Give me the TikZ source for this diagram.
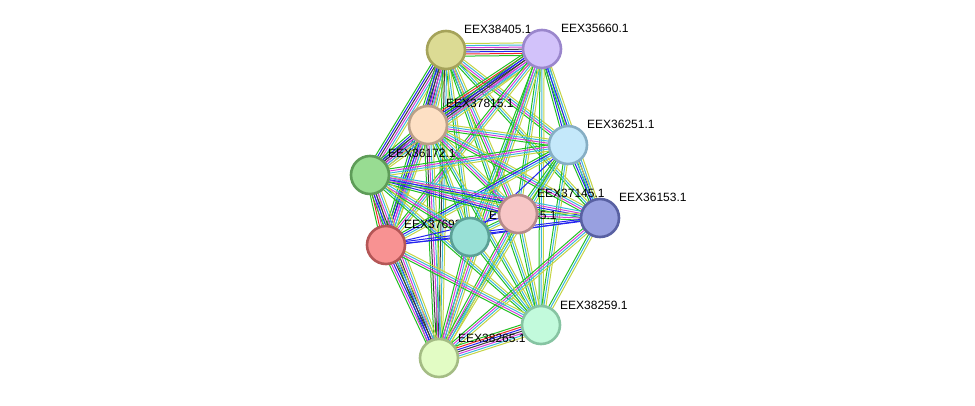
\documentclass[tikz,border=0pt]{standalone}
\usepackage{fontspec}
\setmainfont{Liberation Sans}
\usetikzlibrary{calc}
\pgfdeclarelayer{bg}
\pgfdeclarelayer{edges}
\pgfdeclarelayer{labels}
\pgfsetlayers{bg,edges,labels,main}
\definecolor{cnb}{HTML}{22C022}
\definecolor{cfu}{HTML}{F02828}
\definecolor{coc}{HTML}{2424F0}
\definecolor{cco}{HTML}{3A3A3A}
\definecolor{cex}{HTML}{D43CDC}
\definecolor{cdb}{HTML}{3CB8DC}
\definecolor{ctm}{HTML}{C4D444}
\tikzset{
  lnb/.style={draw=cnb}, lfu/.style={draw=cfu}, loc/.style={draw=coc},
  lco/.style={draw=cco}, lex/.style={draw=cex}, ldb/.style={draw=cdb}, ltm/.style={draw=ctm},
  prot/.style={circle, minimum size=38pt, inner sep=0pt, line width=2.6pt},
  lab/.style={anchor=west, inner sep=0pt, font=\fontsize{12pt}{12pt}\selectfont}
}
\newcommand\bund[3]{%
  \foreach \c [count=\n] in {#3}{\xdef\bundN{\n}}%
  \foreach \c [count=\i] in {#3}{%
    \pgfmathsetmacro\off{(\i-(\bundN+1)/2)*2.1}%
    \draw[\c, line width=1pt] ($(#1.center)!\off pt!90:(#2.center)$) -- ($(#2.center)!\off pt!-90:(#1.center)$);
  }}
\begin{document}
\begin{tikzpicture}[x=1pt,y=-1pt]
\begin{pgfonlayer}{bg}
\fill[white] (0,0) rectangle (975,405);
\end{pgfonlayer}
\useasboundingbox (0,0) rectangle (975,405);
% nodes
\node[prot, fill={rgb,255:red,220;green,219;blue,148}, draw={rgb,255:red,165;green,163;blue,90}] (A) at (446,50) {};
\node[prot, fill={rgb,255:red,210;green,194;blue,250}, draw={rgb,255:red,154;green,134;blue,204}] (B) at (542,49) {};
\node[prot, fill={rgb,255:red,253;green,224;blue,196}, draw={rgb,255:red,187;green,160;blue,136}] (C) at (428,125) {};
\node[prot, fill={rgb,255:red,196;green,232;blue,250}, draw={rgb,255:red,134;green,174;blue,196}] (D) at (568,145) {};
\node[prot, fill={rgb,255:red,152;green,220;blue,146}, draw={rgb,255:red,94;green,156;blue,88}] (E) at (370,175) {};
\node[prot, fill={rgb,255:red,247;green,198;blue,198}, draw={rgb,255:red,181;green,138;blue,138}] (F) at (518,214) {};
\node[prot, fill={rgb,255:red,152;green,160;blue,224}, draw={rgb,255:red,88;green,96;blue,162}] (G) at (600,218) {};
\node[prot, fill={rgb,255:red,248;green,146;blue,146}, draw={rgb,255:red,180;green,86;blue,86}] (H) at (386,245) {};
\node[prot, fill={rgb,255:red,152;green,224;blue,214}, draw={rgb,255:red,90;green,160;blue,150}] (I) at (470,237) {};
\node[prot, fill={rgb,255:red,194;green,250;blue,220}, draw={rgb,255:red,134;green,196;blue,162}] (J) at (541,325) {};
\node[prot, fill={rgb,255:red,226;green,252;blue,196}, draw={rgb,255:red,164;green,188;blue,132}] (K) at (439,358) {};
% labels
\begin{pgfonlayer}{labels}
\node[lab] (lA) at (464,29) {EEX38405.1};
\node[lab] (lB) at (561,28) {EEX35660.1};
\node[lab] (lC) at (446,103) {EEX37815.1};
\node[lab] (lD) at (587,124) {EEX36251.1};
\node[lab] (lE) at (388,153) {EEX36172.1};
\node[lab] (lF) at (537,193) {EEX37145.1};
\node[lab] (lG) at (619,197) {EEX36153.1};
\node[lab] (lH) at (404,224) {EEX37693.1};
\node[lab] (lI) at (489,215) {EEX38045.1};
\node[lab] (lJ) at (560,305) {EEX38259.1};
\node[lab] (lK) at (458,338) {EEX38265.1};
\end{pgfonlayer}
% edges
\begin{pgfonlayer}{edges}
\bund{A}{B}{lnb,lfu,loc,lco,lex,ldb,ltm}
\bund{A}{C}{lnb,loc,lco,lex,ldb,ltm}
\bund{A}{D}{lnb,lex,ldb,ltm}
\bund{A}{E}{lnb,loc,lco,lex,ldb,ltm}
\bund{A}{F}{lnb,lex,ldb,ltm}
\bund{A}{G}{lnb,ldb,ltm}
\bund{A}{H}{lnb,loc,lco,lex,ldb,ltm}
\bund{A}{I}{lnb,ldb,ltm}
\bund{A}{J}{lnb,ldb,ltm}
\bund{A}{K}{lnb,lco,ldb,ltm}
\bund{B}{C}{lnb,lfu,loc,lco,lex,ldb,ltm}
\bund{B}{D}{lnb,loc,ldb,ltm}
\bund{B}{E}{lnb,loc,lco,lex,ldb,ltm}
\bund{B}{F}{lnb,ldb,ltm}
\bund{B}{G}{lnb,loc,ldb,ltm}
\bund{B}{H}{lnb,lex,ldb,ltm}
\bund{B}{I}{lnb,ldb,ltm}
\bund{B}{J}{lnb,ldb,ltm}
\bund{B}{K}{lnb,lex,ldb,ltm}
\bund{C}{D}{lnb,lex,ldb,ltm}
\bund{C}{E}{lnb,loc,lco,lex,ldb,ltm}
\bund{C}{F}{lnb,lex,ldb,ltm}
\bund{C}{G}{lnb,lex,ldb,ltm}
\bund{C}{H}{lnb,loc,lex,ldb,ltm}
\bund{C}{I}{lnb,ldb,ltm}
\bund{C}{J}{lnb,ldb,ltm}
\bund{C}{K}{lnb,lco,lex,ldb,ltm}
\bund{D}{E}{lnb,lex,ldb,ltm}
\bund{D}{F}{lnb,ldb,ltm}
\bund{D}{G}{lnb,loc,ldb,ltm}
\bund{D}{H}{lnb,loc,ldb,ltm}
\bund{D}{I}{loc}
\bund{D}{J}{lnb,ldb,ltm}
\bund{D}{K}{lnb,ldb,ltm}
\bund{E}{F}{lnb,loc,lex,ldb,ltm}
\bund{E}{G}{lnb,loc,lex,ldb}
\bund{E}{H}{lnb,lfu,lex,ldb,ltm}
\bund{E}{I}{lnb,lex,ldb,ltm}
\bund{E}{J}{lnb,ldb,ltm}
\bund{E}{K}{lnb,loc,lco,lex,ldb,ltm}
\bund{F}{G}{lnb,lex,ldb,ltm}
\bund{F}{H}{loc}
\bund{F}{I}{lnb,ldb,ltm}
\bund{F}{J}{lnb,ldb,ltm}
\bund{F}{K}{lnb,lex,ldb,ltm}
\bund{G}{H}{loc,loc}
\bund{G}{I}{loc}
\bund{G}{J}{lnb,ldb,ltm}
\bund{G}{K}{lnb,lex,ldb,ltm}
\bund{H}{I}{loc}
\bund{H}{J}{lnb,lex,ldb,ltm}
\bund{H}{K}{lnb,lex,loc,lco,ldb,ltm}
\bund{I}{J}{lnb,ldb,ltm}
\bund{I}{K}{lnb,lex,ldb,ltm}
\bund{J}{K}{lnb,lfu,loc,lco,lex,ldb,ltm}
\end{pgfonlayer}
\end{tikzpicture}
\end{document}
